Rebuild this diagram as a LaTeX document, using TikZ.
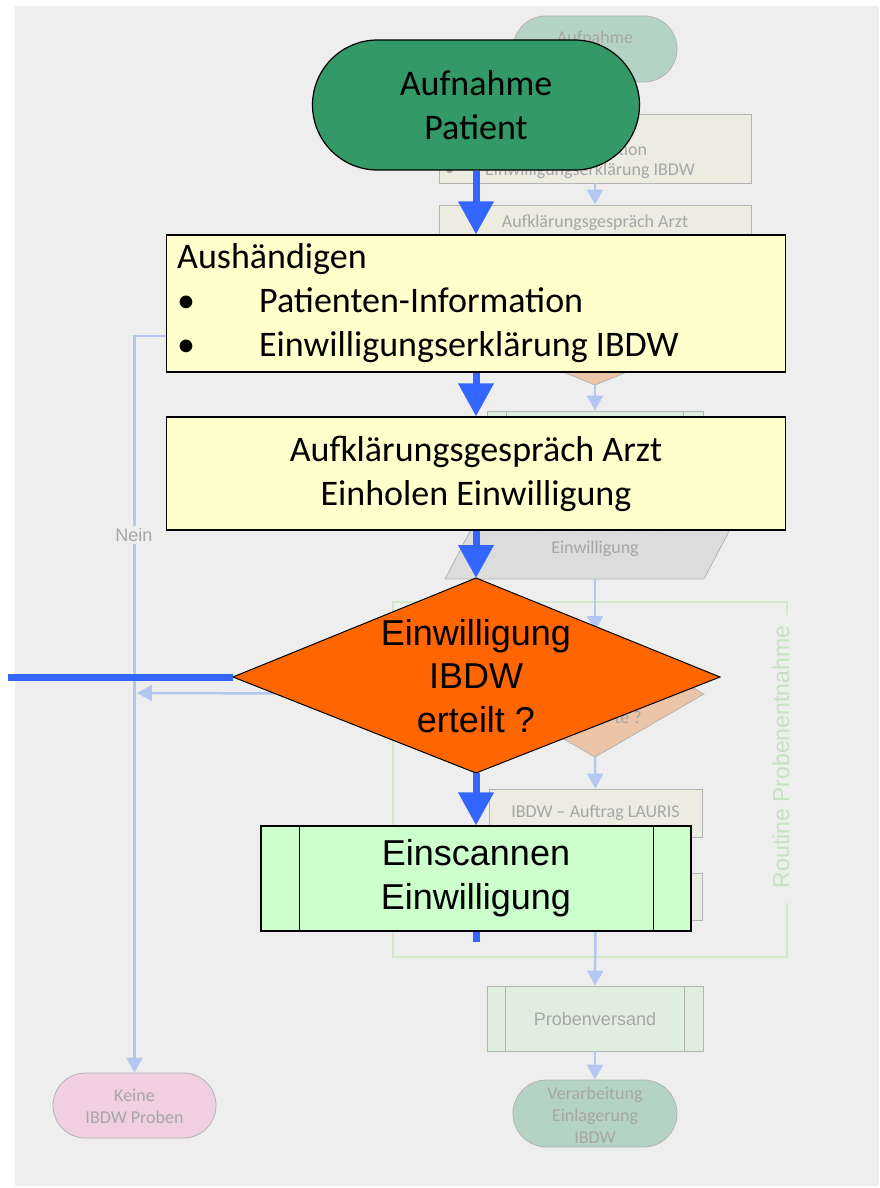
\documentclass[tikz,border=0pt]{standalone}
\usepackage{fontspec}
\setmainfont{Carlito}
\newfontfamily\arialf{Liberation Sans}
\usetikzlibrary{arrows.meta}
\definecolor{pagebg}{HTML}{EEEEEE}
\definecolor{bgtext}{HTML}{A6A6A6}
\definecolor{bgline}{HTML}{B3B3B3}
\definecolor{bgarrow}{HTML}{B4C7F0}
\definecolor{bgterm}{HTML}{B5D3C5}
\definecolor{bgyel}{HTML}{ECECE0}
\definecolor{bggreen}{HTML}{DFEEDF}
\definecolor{bgorange}{HTML}{ECC5A8}
\definecolor{bgpara}{HTML}{DCDCDC}
\definecolor{bgpink}{HTML}{F0D0E0}
\definecolor{grpline}{HTML}{D4E7CB}
\definecolor{grptext}{HTML}{C5E3C0}
\definecolor{fgblue}{HTML}{3366FF}
\definecolor{fgreen}{HTML}{339966}
\definecolor{fyel}{HTML}{FFFFCC}
\definecolor{forange}{HTML}{FF6600}
\definecolor{fgbox}{HTML}{CCFFCC}
\tikzset{
  bgtxt/.style={text=bgtext, font=\fontsize{18}{22}\selectfont, align=center, inner sep=0pt},
  bgatxt/.style={text=bgtext, font=\arialf\fontsize{18}{22}\selectfont, align=center, inner sep=0pt},
  bgbox/.style={draw=bgline, line width=0.8pt, inner sep=0pt},
  bgarr/.style={draw=bgarrow, line width=2.5pt, -{Triangle[length=15pt,width=16pt]}},
  bgplain/.style={draw=bgarrow, line width=2.5pt},
  fgarr/.style={draw=fgblue, line width=7pt, -{Triangle[length=33pt,width=34pt]}},
  fgplain/.style={draw=fgblue, line width=7pt},
  fgshape/.style={draw=black, line width=1.2pt, inner sep=0pt},
  bigtxt/.style={font=\fontsize{36}{44}\selectfont, align=center, inner sep=0pt},
  bigatxt/.style={font=\arialf\fontsize{36}{43.5}\selectfont, align=center, inner sep=0pt},
}
\begin{document}
\begin{tikzpicture}[x=1pt,y=-1pt]
\useasboundingbox (0,0) rectangle (879,1188);
\fill[white] (0,0) rectangle (879,1188);
\fill[pagebg] (15,6) rectangle (879,1186);

% ---------------- background flowchart ----------------
% group
\draw[grpline, line width=2.5pt] (787,615) -- (787,602) -- (393,602) -- (393,957) -- (787,957) -- (787,903);
\node[text=grptext, font=\arialf\fontsize{23}{26}\selectfont, rotate=90, inner sep=0pt] (grpl) at (781,757) {Routine Probenentnahme};

\node[bgbox, fill=bgterm, minimum width=164pt, minimum height=66pt, rounded corners=33pt] (bA) at (595,49) {};
\node[bgtxt] (bAt) at (595,37) {Aufnahme};

\node[bgbox, fill=bgyel, minimum width=312pt, minimum height=69pt] (bB) at (595,148.5) {};
\node[bgtxt, align=left, anchor=west] (bBt1) at (445,149) {\makebox[40pt][l]{\textbullet}Patienten-Information};
\node[bgtxt, align=left, anchor=west] (bBt2) at (445,171) {\makebox[40pt][l]{\textbullet}Einwilligungserklärung IBDW};

\node[bgbox, fill=bgyel, minimum width=312pt, minimum height=58pt] (bC) at (595,234) {};
\node[bgtxt] (bCt) at (595,234) {Aufklärungsgespräch Arzt\\Einholen Einwilligung};

\coordinate (bD1t) at (595,287);
\coordinate (bD1r) at (715,336);
\coordinate (bD1b) at (595,385);
\coordinate (bD1l) at (475,336);
\filldraw[fill=bgorange, draw=bgline, line width=0.8pt] (bD1t) -- (bD1r) -- (bD1b) -- (bD1l) -- cycle;

\node[bgbox, fill=bggreen, minimum width=216pt, minimum height=59pt] (bS) at (595,440.5) {};
\draw[bgline, line width=0.8pt] ([xshift=20pt]bS.north west) -- ([xshift=20pt]bS.south west)
  ([xshift=-20pt]bS.north east) -- ([xshift=-20pt]bS.south east);

\coordinate (bPtl) at (488,497);
\coordinate (bPtr) at (747,497);
\coordinate (bPbr) at (704,579);
\coordinate (bPbl) at (445,579);
\coordinate (bPt) at (595,497);
\coordinate (bPb) at (595,579);
\filldraw[fill=bgpara, draw=bgline, line width=0.8pt] (bPtl) -- (bPtr) -- (bPbr) -- (bPbl) -- cycle;
\node[bgtxt] (bPtx) at (595,538) {KIS – Dokumentation\\Einwilligung};

\coordinate (bD2t) at (595,631);
\coordinate (bD2r) at (704,694);
\coordinate (bD2b) at (595,757);
\coordinate (bD2l) at (486,694);
\filldraw[fill=bgorange, draw=bgline, line width=0.8pt] (bD2t) -- (bD2r) -- (bD2b) -- (bD2l) -- cycle;
\node[bgtxt] (bD2x) at (628,717) {te ?};

\node[bgbox, fill=bgyel, minimum width=213pt, minimum height=48pt] (bL) at (595.5,813) {};
\node[bgtxt] (bLt) at (595.5,813) {IBDW – Auftrag LAURIS};

\node[bgbox, fill=bgyel, minimum width=213pt, minimum height=47pt] (bM) at (595.5,896.5) {};

\node[bgbox, fill=bggreen, minimum width=216pt, minimum height=65pt] (bPV) at (595,1018.5) {};
\draw[bgline, line width=0.8pt] ([xshift=19pt]bPV.north west) -- ([xshift=19pt]bPV.south west)
  ([xshift=-19pt]bPV.north east) -- ([xshift=-19pt]bPV.south east);
\node[bgatxt] (bPVt) at (595,1019) {Probenversand};

\node[bgbox, fill=bgterm, minimum width=164pt, minimum height=67pt, rounded corners=33.5pt] (bV) at (595,1113.5) {};
\node[bgtxt] (bVt) at (595,1115) {Verarbeitung\\Einlagerung\\IBDW};

\node[bgbox, fill=bgpink, minimum width=163pt, minimum height=65pt, rounded corners=32.5pt] (bK) at (134.5,1105.5) {};
\node[bgtxt] (bKt) at (134.5,1106) {Keine\\IBDW Proben};

% background connectors
\draw[bgarr] (bA.south) -- (bB.north);
\draw[bgarr] (bB.south) -- (bC.north);
\draw[bgarr] (bC.south) -- (bD1t);
\draw[bgarr] (bD1b) -- (bS.north);
\draw[bgarr] (bS.south) -- (bPt);
\draw[bgarr] (bPb) -- (bD2t);
\draw[bgarr] (bD2b) -- (bL.north);
\draw[bgarr] (bL.south) -- (bM.north);
\draw[bgarr] (bM.south) -- (bPV.north);
\draw[bgarr] (bPV.south) -- (bV.north);
\coordinate (bNc) at (134.5,336);
\coordinate (bNj) at (137,693);
\draw[bgarr] (bD1l) -- (bNc) -- (bK.north);
\node[fill=pagebg, text=bgtext, font=\arialf\fontsize{18}{22}\selectfont, inner sep=2pt] (nein) at (134,535) {Nein};
\draw[bgarr] (bD2l) -- (bNj);

% ---------------- foreground ----------------
\node[fgshape, fill=fgreen, minimum width=327pt, minimum height=130pt, rounded corners=65pt] (fT) at (476,105) {};
\node[bigtxt] (fTt) at (476,105) {Aufnahme\\Patient};

\node[fgshape, fill=fyel, minimum width=619pt, minimum height=137pt] (fC) at (476,303.5) {};
\node[bigtxt, align=left, anchor=west] (fCt) at (177,303.5) {Aushändigen\\\makebox[82pt][l]{\textbullet}Patienten-Information\\\makebox[82pt][l]{\textbullet}Einwilligungserklärung IBDW};

\node[fgshape, fill=fyel, minimum width=619pt, minimum height=113pt] (fE) at (476,473.5) {};
\node[bigtxt] (fEt) at (476,473.5) {Aufklärungsgespräch Arzt\\Einholen Einwilligung};

\coordinate (fDt) at (476,578);
\coordinate (fDr) at (720,677);
\coordinate (fDb) at (476,773);
\coordinate (fDl) at (233,677);
\filldraw[fill=forange, draw=black, line width=1pt] (fDt) -- (fDr) -- (fDb) -- (fDl) -- cycle;
\node[bigatxt] (fDx) at (476,676) {Einwilligung\\IBDW\\erteilt ?};

\node[fgshape, fill=fgbox, minimum width=430pt, minimum height=105pt] (fG) at (476,878.5) {};
\draw[black, line width=1.2pt] ([xshift=39pt]fG.north west) -- ([xshift=39pt]fG.south west)
  ([xshift=-38pt]fG.north east) -- ([xshift=-38pt]fG.south east);
\node[bigatxt] (fGt) at (476,878) {Einscannen\\Einwilligung};

\coordinate (fLeft) at (8,677);
\coordinate (fStub) at (476,942);
\draw[fgarr] (fT.south) -- (fC.north);
\draw[fgarr] (fC.south) -- (fE.north);
\draw[fgarr] (fE.south) -- (fDt);
\draw[fgarr] (fDb) -- (fG.north);
\draw[fgplain] (fDl) -- (fLeft);
\draw[fgplain] (fG.south) -- (fStub);
\end{tikzpicture}
\end{document}
